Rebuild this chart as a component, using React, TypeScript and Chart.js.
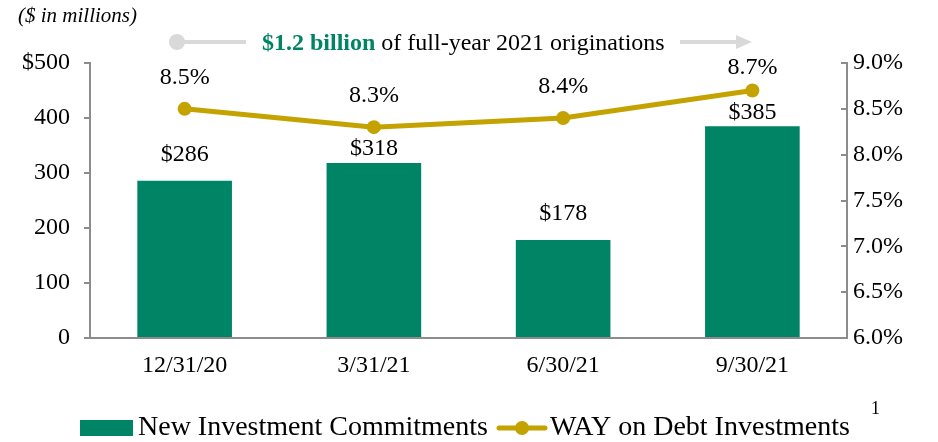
import React, { useEffect, useRef } from "react";
import { Chart, registerables } from "chart.js";

Chart.register(...registerables);

const categories = ["12/31/20", "3/31/21", "6/30/21", "9/30/21"];
const commitments = [286, 318, 178, 385];
const wayDebt = [8.5, 8.3, 8.4, 8.7];
const leftTicks = [0, 100, 200, 300, 400, 500];
const rightTicks = [6.0, 6.5, 7.0, 7.5, 8.0, 8.5, 9.0];
const unitNote = "($ in millions)";
const bannerBold = "$1.2 billion";
const bannerRest = " of full-year 2021 originations";
const legendBar = "New Investment Commitments";
const legendLine = "WAY on Debt Investments";
const footnoteMark = "1";

const GREEN = "#008466";
const GOLD = "#C4A200";
const AXIS = "#8c8c8c";
const ARROW = "#d9d9d9";
const FONT = "'Liberation Serif', 'Times New Roman', serif";

const overlay = {
  id: "overlay",
  afterDatasetsDraw(chart: any) {
    const ctx = chart.ctx;
    const area = chart.chartArea;
    ctx.save();
    ctx.fillStyle = "#000";
    ctx.font = `24px ${FONT}`;
    ctx.textAlign = "center";
    ctx.textBaseline = "middle";
    const barMeta = chart.getDatasetMeta(0);
    const lineMeta = chart.getDatasetMeta(1);
    barMeta.data.forEach((el: any, i: number) => {
      const p = lineMeta.data[i];
      const y = Math.max(el.y - 26, p.y + 22);
      ctx.fillText("$" + commitments[i], el.x, y);
    });
    lineMeta.data.forEach((el: any, i: number) => {
      const y = Math.max(el.y - 31, area.top + 5);
      ctx.fillText(wayDebt[i].toFixed(1) + "%", el.x, y);
    });
    ctx.restore();
  },
  afterDraw(chart: any) {
    const ctx = chart.ctx;
    ctx.save();
    // unit note
    ctx.fillStyle = "#000";
    ctx.font = `italic 21px ${FONT}`;
    ctx.textAlign = "left";
    ctx.textBaseline = "middle";
    ctx.fillText(unitNote, 18, 16);

    // banner
    const by = 42;
    ctx.strokeStyle = ARROW;
    ctx.fillStyle = ARROW;
    ctx.lineWidth = 4;
    ctx.beginPath();
    ctx.arc(177, by, 8, 0, Math.PI * 2);
    ctx.fill();
    ctx.beginPath();
    ctx.moveTo(177, by);
    ctx.lineTo(246, by);
    ctx.stroke();
    ctx.beginPath();
    ctx.moveTo(680, by);
    ctx.lineTo(738, by);
    ctx.stroke();
    ctx.beginPath();
    ctx.moveTo(736, by - 7);
    ctx.lineTo(752, by);
    ctx.lineTo(736, by + 7);
    ctx.closePath();
    ctx.fill();

    ctx.textBaseline = "middle";
    ctx.font = `bold 24px ${FONT}`;
    ctx.fillStyle = GREEN;
    const bx = 262;
    ctx.fillText(bannerBold, bx, by + 2);
    const w = ctx.measureText(bannerBold).width;
    ctx.font = `24px ${FONT}`;
    ctx.fillStyle = "#000";
    ctx.fillText(bannerRest, bx + w, by + 2);

    // legend
    const ly = 428;
    ctx.fillStyle = GREEN;
    ctx.fillRect(80, ly - 8, 53, 16);
    ctx.fillStyle = "#000";
    ctx.font = `28px ${FONT}`;
    ctx.fillText(legendBar, 138, ly);
    ctx.strokeStyle = GOLD;
    ctx.fillStyle = GOLD;
    ctx.lineWidth = 5;
    ctx.lineCap = "round";
    ctx.beginPath();
    ctx.moveTo(499, ly);
    ctx.lineTo(545, ly);
    ctx.stroke();
    ctx.beginPath();
    ctx.arc(522, ly, 7, 0, Math.PI * 2);
    ctx.fill();
    ctx.fillStyle = "#000";
    ctx.fillText(legendLine, 550, ly);
    ctx.font = `18px ${FONT}`;
    ctx.fillText(footnoteMark, 871, ly - 19);
    ctx.restore();
  },
};

export default function App() {
  const ref = useRef<HTMLCanvasElement | null>(null);
  useEffect(() => {
    document.body.style.margin = "0";
    const chart = new Chart(ref.current as HTMLCanvasElement, {
      type: "bar",
      data: {
        labels: categories,
        datasets: [
          {
            type: "bar",
            label: legendBar,
            data: commitments,
            backgroundColor: GREEN,
            yAxisID: "y",
            categoryPercentage: 1,
            barPercentage: 0.5,
            order: 1,
          },
          {
            type: "line",
            label: legendLine,
            data: wayDebt,
            borderColor: GOLD,
            backgroundColor: GOLD,
            borderWidth: 5,
            pointRadius: 7,
            pointBackgroundColor: GOLD,
            pointBorderWidth: 0,
            yAxisID: "y1",
            order: 0,
          },
        ] as any,
      },
      options: {
        animation: false,
        responsive: false,
        devicePixelRatio: 1,
        layout: { padding: { top: 63, left: 0, right: 0, bottom: 0 } },
        plugins: {
          legend: { display: false },
          tooltip: { enabled: false },
        },
        scales: {
          x: {
            grid: { display: false },
            border: { display: true, color: AXIS, width: 2 },
            ticks: { color: "#000", font: { family: FONT, size: 24 }, padding: 5 },
            afterFit: (s: any) => {
              s.height = 104;
            },
          },
          y: {
            position: "left",
            min: 0,
            max: 500,
            afterBuildTicks: (s: any) => {
              s.ticks = leftTicks.map((v) => ({ value: v }));
            },
            grid: {
              drawOnChartArea: false,
              drawTicks: true,
              tickLength: 6,
              color: AXIS,
              lineWidth: 2,
            },
            border: { display: true, color: AXIS, width: 2 },
            ticks: {
              color: "#000",
              padding: 14,
              font: { family: FONT, size: 24 },
              callback: (v: any) => (v === 500 ? "$" + v : String(v)),
            },
            afterFit: (s: any) => {
              s.width = 90;
            },
          },
          y1: {
            position: "right",
            min: 6,
            max: 9,
            afterBuildTicks: (s: any) => {
              s.ticks = rightTicks.map((v) => ({ value: v }));
            },
            grid: {
              drawOnChartArea: false,
              drawTicks: true,
              tickLength: -6,
              color: AXIS,
              lineWidth: 2,
            },
            border: { display: true, color: AXIS, width: 2 },
            ticks: {
              color: "#000",
              padding: 12,
              font: { family: FONT, size: 24 },
              callback: (v: any) => Number(v).toFixed(1) + "%",
            },
            afterFit: (s: any) => {
              s.width = 91;
            },
          },
        },
      } as any,
      plugins: [overlay],
    });
    return () => chart.destroy();
  }, []);
  return (
    <div style={{ position: "absolute", left: 0, top: 0, width: 938, height: 442 }}>
      <canvas ref={ref} width={938} height={442} />
    </div>
  );
}
